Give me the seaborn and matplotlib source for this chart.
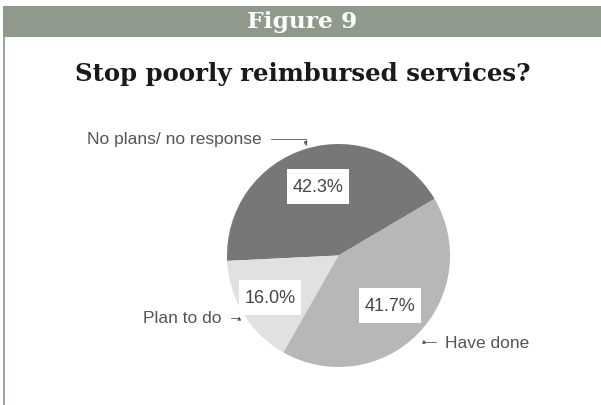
import numpy as np
import matplotlib
matplotlib.use("Agg")
import matplotlib.pyplot as plt
import seaborn as sns
from matplotlib.patches import Rectangle
from matplotlib.lines import Line2D

# ---- data ----
categories = ["No plans/ no response", "Plan to do", "Have done"]
shares = [42.3, 16.0, 41.7]
pct_labels = ["42.3%", "16.0%", "41.7%"]
header_text = "Figure 9"
title_text = "Stop poorly reimbursed services?"

# ---- style ----
sns.set_theme(style="white")
plt.rcParams["font.family"] = ["Liberation Sans", "DejaVu Sans"]
slice_colors = ["#777777", "#e1e1e1", "#b7b7b7"]

W, H = 601, 406
fig = plt.figure(figsize=(W / 100, H / 100), dpi=100)
fig.patch.set_facecolor("white")

def fx(px):
    return px / W

def fy(py):
    return 1 - py / H

# header bar
fig.patches.append(Rectangle((fx(3), fy(38)), 1 - fx(3), (38 - 7) / H,
                             transform=fig.transFigure, facecolor="#8f9a8c",
                             edgecolor="none", zorder=0))
# left border line
fig.lines.append(Line2D([fx(3.8), fx(3.8)], [0, fy(38)], transform=fig.transFigure,
                        color="#9ba596", linewidth=1.4))

fig.text(fx(302), fy(22), header_text, ha="center", va="center", color="white",
         fontsize=16.8, fontweight="bold", family=["DejaVu Serif"])
fig.text(fx(303), fy(74), title_text, ha="center", va="center", color="#1a1a1a",
         fontsize=17.6, fontweight="bold", family=["DejaVu Serif"])

# pie axes: centre (338.5, 256.5) px, radius 111.5 px
cx, cy, R = 338.5, 256.5, 111.5
ax = fig.add_axes([fx(cx - R), fy(cy + R), 2 * R / W, 2 * R / H])
wedges, _ = ax.pie(shares, colors=slice_colors, startangle=30.5, counterclock=True,
                   radius=1.0, wedgeprops=dict(linewidth=0, edgecolor="none"))
ax.set_xlim(-1, 1)
ax.set_ylim(-1, 1)
ax.set_aspect("equal")
ax.axis("off")

pct_dist = [0.65, 0.72, 0.645]
box_w, box_h = 62 / R, 35 / R
label_text_pos = [(-0.686, 1.045, "right"), (-1.045, -0.56, "right"), (0.955, -0.78, "left")]
label_ptr_r = [1.03, 1.045, 1.075]

for i, w in enumerate(wedges):
    mid = np.deg2rad((w.theta1 + w.theta2) / 2)
    d = pct_dist[i]
    px_, py_ = d * np.cos(mid), d * np.sin(mid)
    ax.add_patch(Rectangle((px_ - box_w / 2, py_ - box_h / 2), box_w, box_h,
                           facecolor="white", edgecolor="none", zorder=3))
    ax.text(px_, py_, pct_labels[i], ha="center", va="center",
            fontsize=13, color="#454545", zorder=4)
    r = label_ptr_r[i]
    tx, ty, ha = label_text_pos[i]
    ax.annotate(categories[i], xy=(r * np.cos(mid), r * np.sin(mid)), xytext=(tx, ty),
                ha=ha, va="center", fontsize=12.5, color="#555555",
                annotation_clip=False,
                arrowprops=dict(arrowstyle="-|>", color="#555555", lw=0.6,
                                mutation_scale=5, shrinkA=4, shrinkB=0,
                                connectionstyle="angle,angleA=0,angleB=90,rad=0"))

fig.savefig("out.png", dpi=100)
